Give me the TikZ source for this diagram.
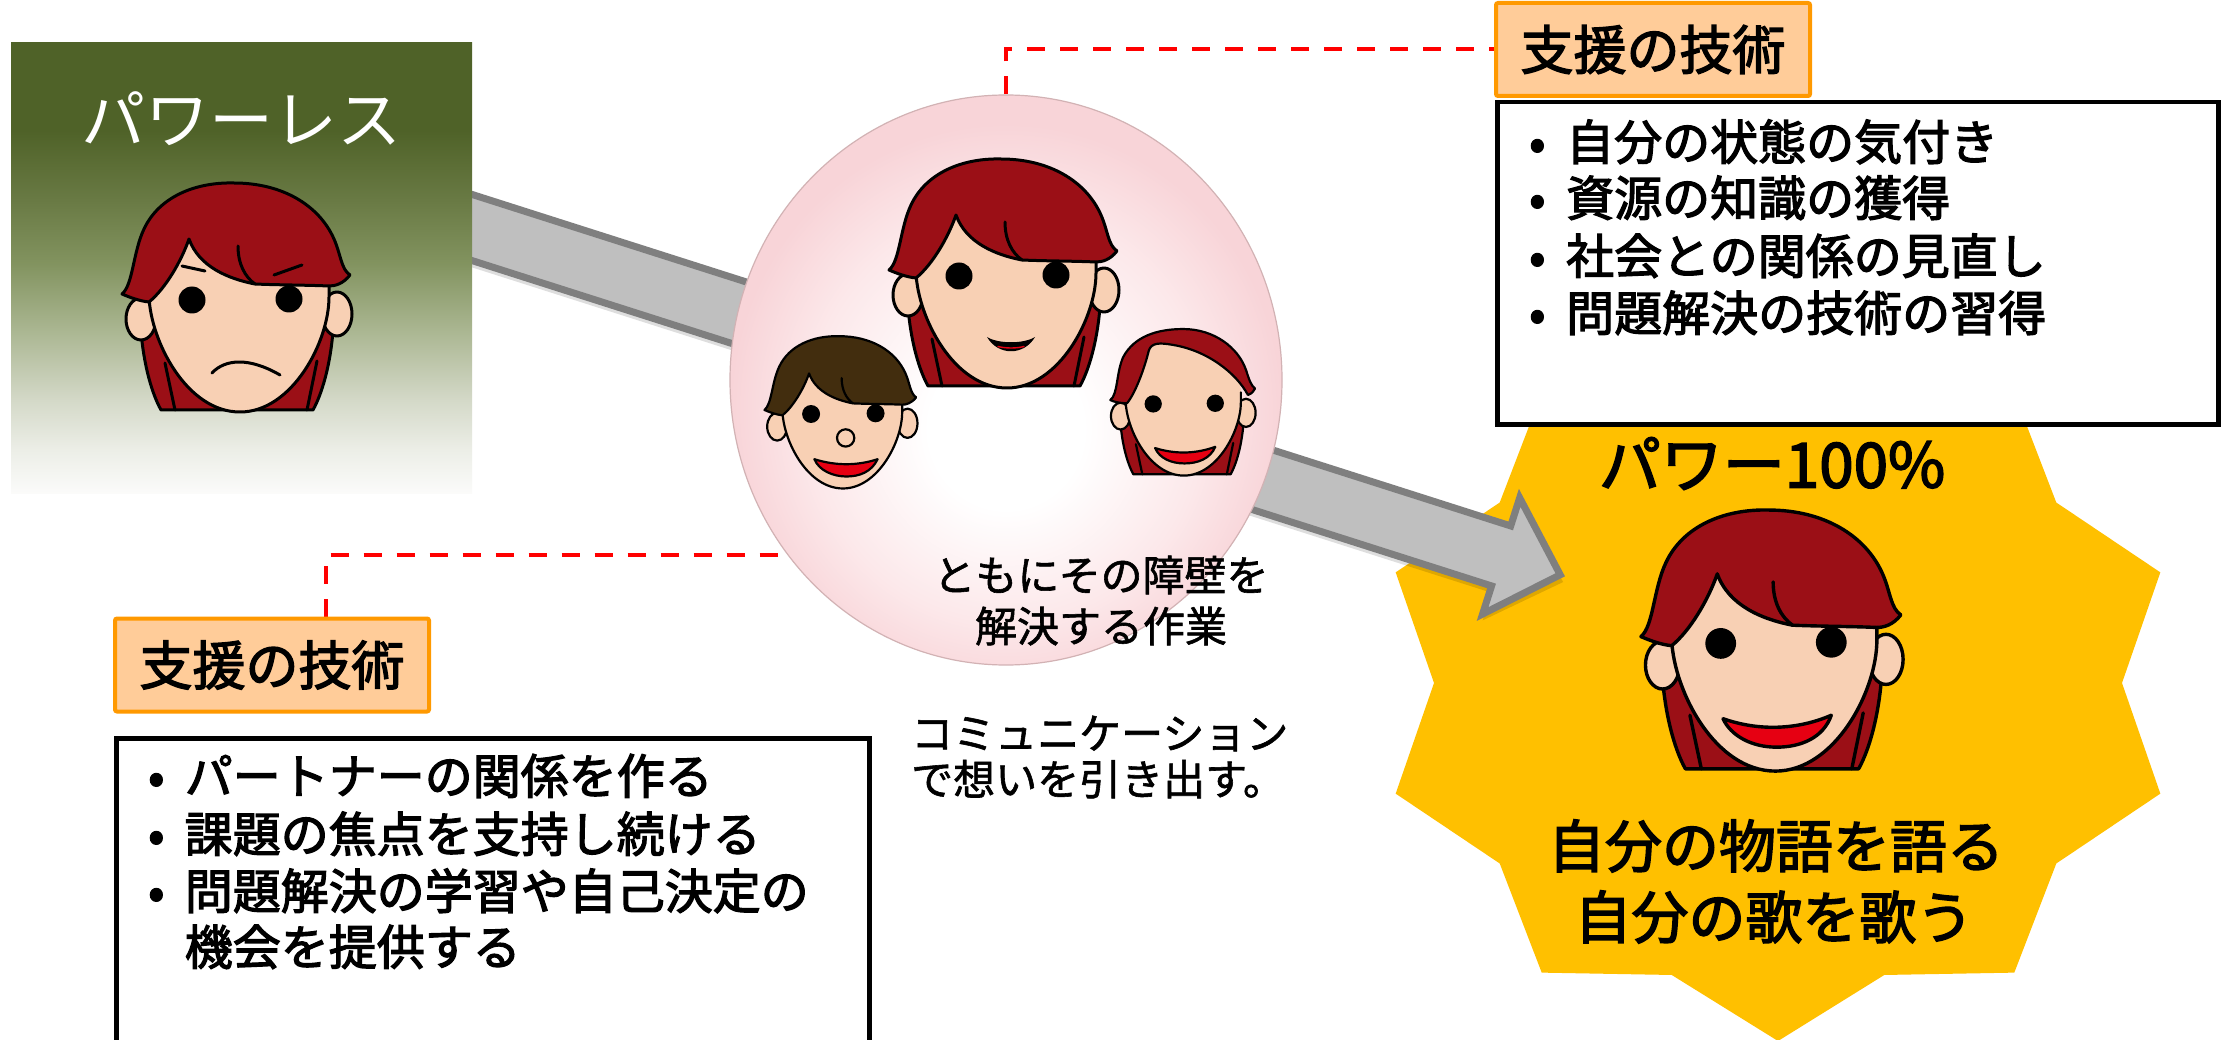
\documentclass[tikz,border=0pt]{standalone}
\usepackage{fontspec}
\setmainfont{Noto Sans CJK JP}
\newfontfamily\heavy{Noto Sans CJK JP}[FakeBold=2.6]
\newfontfamily\medium{Noto Sans CJK JP}[FakeBold=1.4]
\usetikzlibrary{shapes.geometric,calc}

% palette
\definecolor{hairred}{RGB}{155,15,22}
\definecolor{hairbrown}{RGB}{66,45,14}
\definecolor{skin}{RGB}{248,208,180}
\definecolor{mouthred}{RGB}{230,0,18}
\definecolor{starfill}{RGB}{255,192,0}
\definecolor{arrowfill}{RGB}{191,191,191}
\definecolor{arrowline}{RGB}{127,127,127}
\definecolor{labelfill}{RGB}{255,204,153}
\definecolor{labelline}{RGB}{255,153,0}
\definecolor{ballmid}{RGB}{252,232,234}
\definecolor{balledge}{RGB}{248,212,216}
\definecolor{ballrim}{RGB}{210,178,180}
\definecolor{gA}{RGB}{251,251,250}
\definecolor{gB}{RGB}{236,238,231}
\definecolor{gC}{RGB}{212,217,200}
\definecolor{gD}{RGB}{170,182,145}
\definecolor{gE}{RGB}{130,147,95}
\definecolor{gF}{RGB}{105,122,68}
\definecolor{gG}{RGB}{79,98,40}

% olive panel fading to white at the bottom
\pgfdeclareverticalshading{powerfade}{100bp}{%
  color(0bp)=(gA); color(25bp)=(gA); color(29.8bp)=(gB); color(35.3bp)=(gC);
  color(43.1bp)=(gD); color(50.5bp)=(gE); color(57.5bp)=(gF); color(65.2bp)=(gG);
  color(75bp)=(gG); color(100bp)=(gG)}
% pale pink ball, brightest a little below its centre
\pgfdeclareradialshading{pinkball}{\pgfpoint{0bp}{-5bp}}{%
  color(0bp)=(white); color(7bp)=(white); color(18bp)=(ballmid);
  color(25bp)=(balledge); color(50bp)=(balledge)}

\pgfdeclarelayer{back}
\pgfdeclarelayer{mid}
\pgfsetlayers{back,mid,main}

% ---- cartoon head parts, local units, origin between the eyes ----
\newcommand\HeadBackHair[1]{%
  \filldraw[fill=#1] (-97,15) .. controls (-96,60) and (-86,95) .. (-76,113)
    -- (76,113) .. controls (86,95) and (96,60) .. (97,15) -- cycle;
  \draw (-72,66) -- (-62,113) (80,64) -- (70,113);}
\newcommand\HeadEars{%
  \filldraw[fill=skin] (-96,22) ellipse [x radius=15, y radius=21];
  \filldraw[fill=skin] (100,17) ellipse [x radius=15, y radius=22];}
\newcommand\HeadFace{%
  \fill[skin] (-88,-20) -- (-80,-60) -- (-55,-95) -- (-10,-100) -- (50,-90)
    -- (85,-50) -- (92,-20) -- (92,0) .. controls (92,45) and (55,115) .. (3,115)
    .. controls (-50,115) and (-86,45) .. (-88,0) -- cycle;
  \draw (-88,-15) -- (-88,0) .. controls (-86,45) and (-50,115) .. (3,115)
    .. controls (55,115) and (92,45) .. (92,0) -- (92,-15);}
\newcommand\HeadHairStd[1]{%
  \filldraw[fill=#1] (-115,-3)
    .. controls (-104,-12) and (-104,-45) .. (-93,-68)
    .. controls (-78,-100) and (-42,-115) .. (-3,-114)
    .. controls (45,-114) and (82,-92) .. (97,-58)
    .. controls (104,-42) and (104,-28) .. (113,-22)
    .. controls (106,-13) and (98,-11) .. (92,-11)
    .. controls (70,-12) and (40,-12) .. (18,-13)
    .. controls (-8,-18) and (-38,-30) .. (-48,-58)
    .. controls (-56,-35) and (-72,-8) .. (-88,5)
    .. controls (-98,4) and (-108,0) .. (-115,-3) -- cycle;
  \draw (1,-51) .. controls (1,-33) and (8,-20) .. (18,-13);}
\newcommand\HeadHairSide[1]{%
  \filldraw[fill=#1] (-112,-3)
    .. controls (-100,-12) and (-103,-45) .. (-92,-70)
    .. controls (-75,-102) and (-40,-114) .. (2,-114)
    .. controls (50,-114) and (88,-85) .. (100,-50)
    .. controls (105,-35) and (107,-27) .. (114,-21)
    .. controls (110,-14) and (107,-12) .. (103,-11)
    .. controls (85,-45) and (40,-80) .. (-13,-89)
    .. controls (-35,-93) and (-48,-93) .. (-52,-80)
    .. controls (-58,-55) and (-72,-15) .. (-86,2)
    .. controls (-96,2) and (-106,0) .. (-112,-3) -- cycle;}
\newcommand\HeadEyes{\fill (-45,3) circle [radius=13.5] (52,2) circle [radius=13.5];}

\tikzset{
  headscope/.style={line width=#1, line join=round, line cap=round},
  tag/.style={draw=labelline, fill=labelfill, line width=4, rounded corners=2,
    minimum width=314, minimum height=93, inner sep=0,
    font=\heavy\fontsize{53}{60}\selectfont},
  listbox/.style={draw=black, line width=4.5, fill=white, inner sep=0, anchor=north west},
  listline/.style={anchor=west, inner sep=0, text height=42, text depth=6,
    font=\heavy\fontsize{48}{58}\selectfont},
  plain42/.style={inner sep=0, text height=37, text depth=5,
    font=\medium\fontsize{42}{50}\selectfont},
  bigline/.style={inner sep=0, text height=50, text depth=7,
    font=\heavy\fontsize{57}{66}\selectfont},
  reddash/.style={draw=red, line width=4, dash pattern=on 18pt off 15pt},
}

\begin{document}
\begin{tikzpicture}[x=1pt,y=-1pt]
\useasboundingbox (0,0) rectangle (2233,1040);
\clip (0,0) rectangle (2233,1040);

% ---------- star behind everything ----------
\begin{pgfonlayer}{back}
  \fill[white] (0,0) rectangle (2233,1040);
  \coordinate (fullc) at (1778,683);
  \fill[starfill] ($(fullc)+({402*cos(90)},{-358*sin(90)})$)
    \foreach \i [evaluate=\i as \rx using {ifthenelse(mod(\i,2)==0,402,344)},
                 evaluate=\i as \ry using {ifthenelse(mod(\i,2)==0,358,307)}] in {1,...,19}
      { -- ($(fullc)+({\rx*cos(90+18*\i)},{-\ry*sin(90+18*\i)})$) } -- cycle;
\end{pgfonlayer}

% ---------- powerless panel ----------
\node[minimum width=461, minimum height=451, inner sep=0, anchor=north west,
      shading=powerfade] (lessbox) at (11,42) {};
\node[white, inner sep=0, text height=56, text depth=8,
      font=\fontsize{64}{70}\selectfont] (lesstitle) at (241,120) {パワーレス};
\begin{scope}[shift={(237,297)}, headscope=3]
  \HeadBackHair{hairred}\HeadEars\HeadFace\HeadHairStd{hairred}\HeadEyes
  \draw (-55,-31) -- (-32,-26) (37,-22) -- (65,-32);
  \draw (-25,76) .. controls (-12,62) and (12,60) .. (43,78);
\end{scope}

% ---------- the ball with the supporters ----------
\node[ellipse, minimum width=552, minimum height=570, inner sep=0,
      shading=pinkball, draw=ballrim, line width=1.2] (team) at (1006,380) {};
% main supporter
\begin{scope}[shift={(1004,273)}, headscope=3]
  \HeadBackHair{hairred}\HeadEars\HeadFace\HeadHairStd{hairred}\HeadEyes
  \fill (-17,64) .. controls (-6,83) and (20,83) .. (31,64)
        .. controls (20,71) and (-6,71) .. cycle;
  \draw[mouthred, line width=1.4] (-6,73.5) .. controls (2,75.5) and (12,75.5) .. (20,73.5);
\end{scope}
% boy
\begin{scope}[shift={(841,412)}, scale=0.665, headscope=2.2]
  \HeadEars\HeadFace\HeadHairStd{hairbrown}\HeadEyes
  \filldraw[fill=skin] (7,39) circle [radius=13];
  \filldraw[fill=mouthred] (-40,71) .. controls (-8,81) and (24,81) .. (55,71)
    .. controls (46,90) and (28,97) .. (8,97) .. controls (-12,97) and (-33,88) .. cycle;
\end{scope}
% girl
\begin{scope}[shift={(1182,402)}, scale=0.64, headscope=2.2]
  \HeadBackHair{hairred}\HeadEars\HeadFace\HeadHairSide{hairred}\HeadEyes
  \filldraw[fill=mouthred] (-42,72) .. controls (-10,82) and (22,81) .. (52,70)
    .. controls (44,89) and (24,96) .. (4,96) .. controls (-17,96) and (-35,88) .. cycle;
\end{scope}
\node[plain42] (teamA) at (1101,575) {ともにその障壁を};
\node[plain42] (teamB) at (1101,626) {解決する作業};
\node[plain42, anchor=west] (commA) at (911,733) {コミュニケーション};
\node[plain42, anchor=west] (commB) at (911,779) {で想いを引き出す。};

% ---------- support skills, upper right ----------
\node[tag] (tech1) at (1653,49.5) {支援の技術};
\node[listbox, minimum width=721, minimum height=322] (tech1box) at (1495,100) {};
\foreach \n/\yy/\t in {a/142/自分の状態の気付き, b/198/資源の知識の獲得,
                       c/256/社会との関係の見直し, d/313/問題解決の技術の習得}
  \node[listline] (tech1\n) at (1529,\yy) {\makebox[37pt][l]{•}\t};

% ---------- support skills, lower left ----------
\node[tag] (tech2) at (272,665) {支援の技術};
\node[listbox, minimum width=753, minimum height=340] (tech2box) at (114,736) {};
\foreach \n/\yy/\t in {a/776/パートナーの関係を作る, b/834/課題の焦点を支持し続ける,
                       c/891/問題解決の学習や自己決定の}
  \node[listline] (tech2\n) at (148,\yy) {\makebox[36.6pt][l]{•}\t};
\node[listline] (tech2d) at (148,947) {\makebox[36.6pt]{}機会を提供する};

% ---------- full power ----------
\node[inner sep=0, text height=55, text depth=8, font=\heavy\fontsize{62}{70}\selectfont]
  (fullA) at (1772,464) {パワー100\%};
\begin{scope}[shift={(1772,640)}, scale=1.14, headscope=3.4]
  \HeadBackHair{hairred}\HeadEars\HeadFace\HeadHairStd{hairred}\HeadEyes
  \filldraw[fill=mouthred] (-43,69) .. controls (-12,80) and (22,79) .. (52,66)
    .. controls (45,86) and (25,94) .. (4,94) .. controls (-18,94) and (-36,84) .. cycle;
\end{scope}
\node[bigline] (fullB) at (1776,846) {自分の物語を語る};
\node[bigline] (fullC) at (1774,917) {自分の歌を歌う};

% ---------- block arrow and dashed leaders, under the ball ----------
\begin{pgfonlayer}{mid}
  \begin{scope}[shift={(1564,576)}, rotate=-17.7]
    \fill[black, opacity=0.13] (1,6) -- (-64,67) -- (-64,38) -- (-1200,38)
      -- (-1200,-25) -- (-64,-25) -- (-64,-55) -- cycle;
    \filldraw[fill=arrowfill, draw=arrowline, line width=7, line join=miter]
      (-4,0) -- (-66,-61) -- (-66,-31.5) -- (-1200,-31.5)
      -- (-1200,31.5) -- (-66,31.5) -- (-66,61) -- cycle;
  \end{scope}
  \draw[reddash] (team.north) |- (tech1.west);
  \coordinate (tech2tap) at ($(tech2.north west)!0.67!(tech2.north east)$);
  \draw[reddash] (tech2tap) |- ($(team.center)+(0,175)$);
\end{pgfonlayer}
\end{tikzpicture}
\end{document}
